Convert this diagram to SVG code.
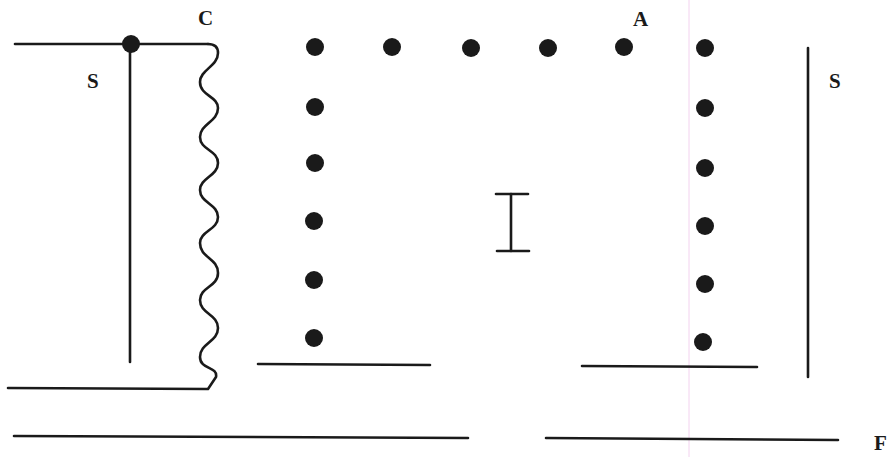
<svg xmlns="http://www.w3.org/2000/svg" width="896" height="457" viewBox="0 0 896 457">
<style>
.ln{stroke:#1a1a1a;stroke-width:2.6;fill:none;stroke-linecap:round;stroke-linejoin:round}
.dot{fill:#1a1a1a}
.lbl{font-family:'Liberation Serif','DejaVu Serif',serif;font-weight:bold;font-size:21px;fill:#1a1a1a}
</style>
<rect width="896" height="457" fill="#ffffff"/>
<line x1="689" y1="0" x2="689" y2="457" stroke="#f3d2ef" stroke-width="1"/>
<g id="left-structure">
<polyline class="ln" points="15,44 208,44"/>
<line class="ln" x1="130" y1="44" x2="130" y2="362"/>
<circle class="dot" cx="131" cy="44" r="9"/>
<path class="ln" stroke-width="2.8" d="M208,44 Q218,44 218,53 C218,66 200,70 200,82 C200,96 218,96 218,108 C218,122 200,124 200,137 C200,150 218,150 218,163 C218,176 200,178 200,190 C200,203 218,204 218,217 C218,230 200,231 200,243 C200,258 218,258 218,273 C218,287 200,287 200,300 C200,314 218,314 218,328 C218,342 200,343 200,357 C200,370 218,366 216,377 L208,389 L8,388"/>
<text class="lbl" x="87" y="88">S</text>
<text class="lbl" x="198" y="25">C</text>
</g>
<g id="dots">
<circle class="dot" cx="315" cy="47" r="9"/>
<circle class="dot" cx="392" cy="47" r="9"/>
<circle class="dot" cx="471" cy="48" r="9"/>
<circle class="dot" cx="548" cy="48" r="9"/>
<circle class="dot" cx="624" cy="47" r="9"/>
<circle class="dot" cx="705" cy="48" r="9"/>
<circle class="dot" cx="315" cy="107" r="9"/>
<circle class="dot" cx="315" cy="163" r="9"/>
<circle class="dot" cx="314" cy="221" r="9"/>
<circle class="dot" cx="314" cy="280" r="9"/>
<circle class="dot" cx="314" cy="338" r="9"/>
<circle class="dot" cx="705" cy="108" r="9"/>
<circle class="dot" cx="705" cy="168" r="9"/>
<circle class="dot" cx="705" cy="226" r="9"/>
<circle class="dot" cx="705" cy="284" r="9"/>
<circle class="dot" cx="703" cy="342" r="9"/>
<text class="lbl" x="633" y="26">A</text>
</g>
<g id="ibeam">
<line class="ln" x1="496" y1="194" x2="528" y2="194"/>
<line class="ln" x1="511" y1="194" x2="511" y2="251"/>
<line class="ln" x1="497" y1="251" x2="529" y2="251"/>
</g>
<g id="lines">
<line class="ln" x1="258" y1="364" x2="430" y2="365"/>
<line class="ln" x1="582" y1="366" x2="757" y2="367"/>
<line class="ln" x1="808" y1="48" x2="808" y2="377"/>
<line class="ln" x1="14" y1="436" x2="468" y2="438"/>
<line class="ln" x1="546" y1="438" x2="838" y2="440"/>
<text class="lbl" x="829" y="88">S</text>
<text class="lbl" x="874" y="450">F</text>
</g>
</svg>
